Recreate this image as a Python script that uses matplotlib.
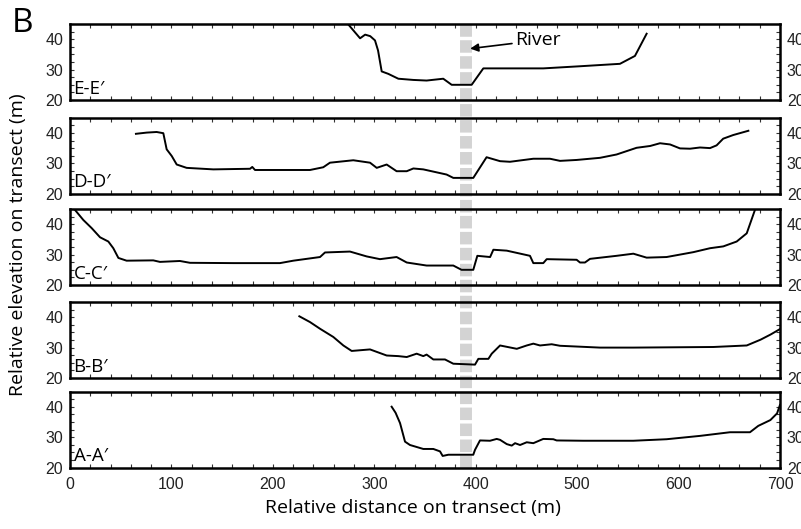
import numpy as np
import matplotlib
matplotlib.use("Agg")
import matplotlib.pyplot as plt
from matplotlib.ticker import MultipleLocator
from matplotlib.lines import Line2D

plt.rcParams['font.family'] = ['Liberation Sans', 'DejaVu Sans']
plt.rcParams['lines.scale_dashes'] = False
label_font = ['Open Sans', 'DejaVu Sans']

# transect profiles (distance m, elevation m)
ee_x = [274, 286, 291, 296, 300.7, 303.7, 307.3, 313.8, 323.7, 338.5, 351.6, 368, 376.3, 396,
        407.5, 466.6, 502.8, 542.2, 557, 568.5]
ee_y = [45, 40.3, 41.5, 41, 39.6, 36.3, 29.4, 28.6, 27, 26.6, 26.4, 27.0, 25, 25,
        30.4, 30.4, 31.1, 31.9, 34.5, 41.8]

dd_x = [65, 75.6, 85.4, 92, 95.3, 100.3, 105.2, 115, 141.3, 177.5, 179.7, 182.4, 236.6, 249.7,
        256.3, 279.3, 295.8, 302.4, 312.2, 322, 332, 338.5, 348.3, 371.3, 377.9, 397.6,
        410.7, 424, 433.8, 456.8, 473.2, 483.1, 499.5, 522.5, 538.9, 558.6, 572, 581.7,
        591.6, 601.4, 611.3, 621.1, 631, 637.5, 644, 653.9, 668.8]
dd_y = [39.7, 40.1, 40.3, 39.9, 34.6, 32.4, 29.6, 28.5, 28.0, 28.2, 28.8, 27.8, 27.8, 28.7,
        30.2, 31.0, 30.2, 28.5, 29.6, 27.4, 27.4, 28.3, 28.0, 26.3, 25.2, 25.2,
        32.0, 30.7, 30.5, 31.5, 31.5, 30.8, 31.1, 31.8, 32.9, 35.1, 35.7, 36.6,
        36.2, 34.9, 34.8, 35.2, 35.0, 35.9, 38.1, 39.3, 40.7]

cc_x = [0, 4.9, 13.1, 21.4, 29.6, 37.8, 42.7, 47.7, 55.8, 82.1, 88.7, 108.4, 118.3, 161, 207,
        220.2, 246.5, 251.4, 276, 292.5, 305.6, 322, 332, 351.6, 377.9, 386, 397.6, 401.6,
        414.2, 417.4, 430.6, 453.5, 456.8, 466.6, 470, 499.5, 502.8, 507.7, 512.7, 538.9,
        555.4, 568.5, 588.2, 614.5, 631, 644.1, 657.3, 667.2, 675.3]
cc_y = [46, 44.7, 41.4, 38.7, 35.7, 34.3, 32.1, 28.9, 28.0, 28.1, 27.6, 27.9, 27.3, 27.2, 27.2,
        28.0, 29.2, 30.7, 31.0, 29.4, 28.5, 29.2, 27.4, 26.4, 26.4, 25.0, 25.0, 29.6,
        29.2, 31.6, 31.3, 29.6, 27.2, 27.2, 28.5, 28.3, 27.4, 27.4, 28.6, 29.6,
        30.3, 29.0, 29.2, 30.8, 32.1, 32.7, 34.3, 37.0, 44.7]

bb_x = [226.1, 236.6, 246.5, 259.6, 269.5, 277.7, 295.8, 312.2, 323.7, 332, 341.8, 348.3, 351.6,
        358.2, 369.7, 377.9, 399.3, 402.6, 412.5, 415.8, 424, 440.5, 450.3, 456.8, 463.4,
        474.9, 483.1, 522.5, 555.4, 634.3, 667.2, 680.8, 690.7, 700]
bb_y = [40.3, 38.4, 36.2, 33.5, 30.7, 28.9, 29.4, 27.4, 27.2, 26.9, 28.0, 27.2, 27.7,
        26.1, 26.1, 24.7, 24.4, 26.3, 26.3, 28.0, 30.7, 29.6, 30.7, 31.3, 30.7,
        31.1, 30.6, 30.0, 30.0, 30.2, 30.7, 32.6, 34.3, 36.1]

aa_x = [317.1, 321, 325.4, 330.3, 335.2, 348.3, 358.2, 364.8, 367.4, 373, 397.6, 399.3, 404.2,
        414.1, 420.7, 424, 430.6, 435.5, 438.8, 443.7, 450.3, 456.8, 466.6, 476.5, 479.8,
        506, 555.4, 588.2, 621.1, 650.7, 670.4, 678.6, 690.5, 697.1, 700]
aa_y = [40.0, 38.0, 34.6, 28.5, 27.4, 26.1, 26.1, 25.3, 23.8, 24.2, 24.2, 25.8, 28.9,
        28.8, 29.4, 29.1, 27.7, 27.2, 28.0, 27.4, 28.3, 28.0, 29.4, 29.3, 28.9,
        28.8, 28.8, 29.3, 30.4, 31.6, 31.6, 33.7, 35.6, 37.8, 40.6]

names = ["E-E\u2032", "D-D\u2032", "C-C\u2032", "B-B\u2032", "A-A\u2032"]
profiles = [(ee_x, ee_y), (dd_x, dd_y), (cc_x, cc_y), (bb_x, bb_y), (aa_x, aa_y)]
river_x = 390

W, H = 801, 529
fig = plt.figure(figsize=(W / 100, H / 100), dpi=100)

# panel top / bottom in pixels
tops = [24, 117.7, 209, 302, 391.5]
ph = 76
left, right = 70, 780

axes = []
for i in range(5):
    ax = fig.add_axes([left / W, 1 - (tops[i] + ph) / H, (right - left) / W, ph / H])
    ax.patch.set_alpha(0)
    x, y = profiles[i]
    ax.plot(x, y, color='black', lw=1.4, solid_joinstyle='round')
    ax.set_xlim(0, 700)
    ax.set_ylim(20, 45)
    ax.xaxis.set_major_locator(MultipleLocator(100))
    ax.xaxis.set_minor_locator(MultipleLocator(20))
    ax.yaxis.set_major_locator(MultipleLocator(10))
    ax.yaxis.set_minor_locator(MultipleLocator(2.5))
    ax.tick_params(which='both', direction='in', top=True, right=True, labelright=True,
                   length=3, width=0.8, color='#333333')
    ax.tick_params(axis='y', labelsize=11.5, pad=5, labelcolor='#222222')
    ax.tick_params(axis='x', labelsize=11.5, pad=7, labelcolor='#222222')
    if i < 4:
        ax.tick_params(axis='x', labelbottom=False)
    for s in ax.spines.values():
        s.set_linewidth(1.8)
    ax.text(0.005, 0.03, names[i], transform=ax.transAxes, fontsize=13.5,
            family=label_font, ha='left', va='bottom')
    axes.append(ax)

# river marker running through all panels
rx = (left + river_x * (right - left) / 700) / W
fig.add_artist(Line2D([rx, rx], [1 - 468 / H, 1 - 24 / H], color='#d3d3d3', lw=8.6,
                      dashes=(9, 2.5), zorder=-1, transform=fig.transFigure))

axes[0].annotate("River", xy=(394.5, 36.9), xytext=(438.5, 39.6), fontsize=14,
                 family=label_font, va='center', ha='left',
                 arrowprops=dict(arrowstyle='-|>', color='black', lw=1.2,
                                 shrinkA=0, shrinkB=0, mutation_scale=12))

fig.text(0.516, 0.04, "Relative distance on transect (m)", ha='center', va='center',
         fontsize=14, family=label_font)
fig.text(0.022, 0.537, "Relative elevation on transect (m)", ha='center', va='center',
         rotation=90, fontsize=14, family=label_font)
fig.text(0.015, 0.955, "B", ha='left', va='center', fontsize=24, family=label_font)

fig.savefig("out.png", dpi=100)
